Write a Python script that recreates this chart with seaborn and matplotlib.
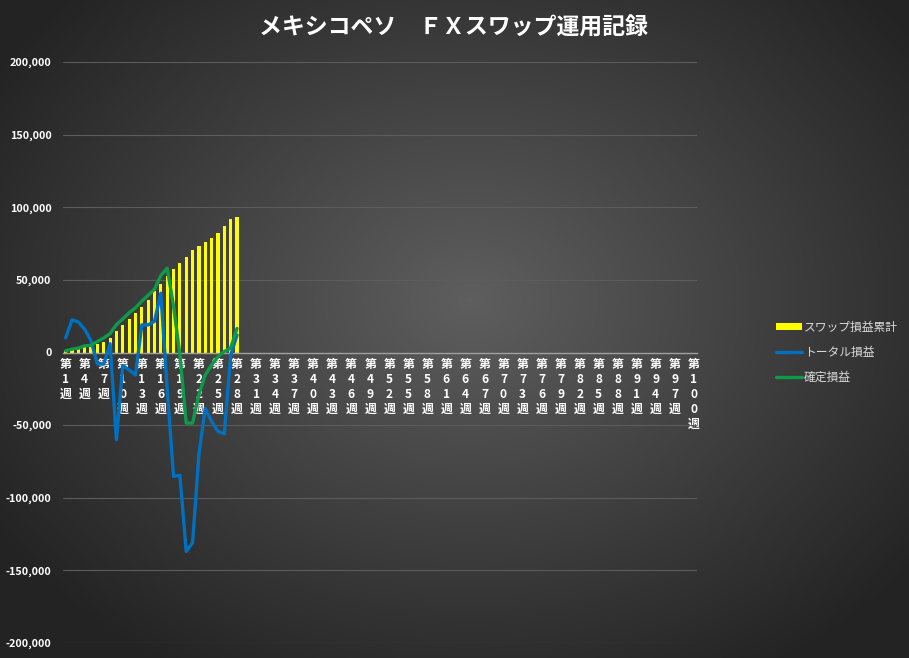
import numpy as np
import pandas as pd
import seaborn as sns
import matplotlib.pyplot as plt
from matplotlib.patches import Patch
from matplotlib.lines import Line2D
from matplotlib.ticker import FuncFormatter

# ==========================================
# データ (第1週〜第28週まで記録済み)
# ==========================================
weeks = [f"第{i}週" for i in range(1, 101)]

swap_cum = [1000, 1800, 2600, 3500, 4500, 5700, 7000, 10000, 14500, 19000,
            23000, 27300, 31000, 36000, 42000, 47500, 52800, 57400, 61600, 65500,
            70600, 73200, 75900, 78700, 82400, 87000, 91700, 93000]
total_pl = [10000, 22500, 21000, 16000, 8000, -8000, -8000, 6000, -60000, -9000,
            -12000, -15500, 19000, 19000, 21500, 40800, -25000, -85300, -84500, -137000,
            -131000, -70000, -38500, -47500, -54300, -56000, -2000, 12000]
fixed_pl = [1200, 2300, 3000, 4600, 4900, 7600, 10000, 13000, 19200, 23100,
            27300, 30800, 35400, 39400, 43500, 53000, 58000, 32000, -1500, -48600,
            -48600, -29000, -15500, -8500, -2800, 700, 3000, 16500]

title = "メキシコペソ　ＦＸスワップ運用記録"
labels = ["スワップ損益累計", "トータル損益", "確定損益"]


def pad(vals):
    return list(vals) + [np.nan] * (len(weeks) - len(vals))


df = pd.DataFrame({
    "週": weeks,
    "pos": np.arange(len(weeks)),
    "swap": pad(swap_cum),
    "total": pad(total_pl),
    "fixed": pad(fixed_pl),
})

# 背景とフォント
sns.set_theme(style="white")
plt.rcParams['font.family'] = ['Noto Sans CJK JP', 'DejaVu Sans']

fig = plt.figure(figsize=(9.09, 6.58), dpi=100)

# 放射状グラデーション背景
bg = fig.add_axes([0, 0, 1, 1], zorder=-10)
yy, xx = np.mgrid[0:658, 0:909]
r = np.sqrt(((xx - 470) / 560.0) ** 2 + ((yy - 300) / 430.0) ** 2)
r = np.clip(r, 0, 1)
inner, outer = 0.37, 0.14
shade = inner + (outer - inner) * r
bg.imshow(np.dstack([shade, shade, shade]), aspect="auto", extent=[0, 1, 0, 1])
bg.axis("off")

ax = fig.add_axes([62.5 / 909, 15 / 658, (697 - 62.5) / 909, (643 - 62) / 658])
ax.set_facecolor("none")

sns.barplot(data=df, x="週", y="swap", order=weeks, color="#FFFF00",
            saturation=1, width=0.5, edgecolor="none", linewidth=0,
            ax=ax, zorder=2)
sns.lineplot(data=df, x="pos", y="total", color="#0070C0", linewidth=2.4,
             ax=ax, zorder=3, solid_joinstyle="round")
sns.lineplot(data=df, x="pos", y="fixed", color="#0E9A48", linewidth=2.4,
             ax=ax, zorder=4, solid_joinstyle="round")

ax.set_ylim(-200000, 200000)
ax.set_xlim(-0.5, len(weeks) - 0.5)
ax.set_yticks(np.arange(-200000, 200001, 50000))
ax.yaxis.set_major_formatter(FuncFormatter(lambda v, p: f"{v:,.0f}"))
ax.yaxis.grid(True, color="#5c5c5c", linewidth=0.8, zorder=0)
ax.xaxis.grid(False)
ax.set_axisbelow(True)

tick_idx = list(range(0, len(weeks), 3))
ax.set_xticks(tick_idx)
ax.set_xticklabels(["\n".join(weeks[i]) for i in tick_idx], linespacing=1.0)

for s in ["top", "right", "left"]:
    ax.spines[s].set_visible(False)
ax.spines["bottom"].set_position(("data", 0))
ax.spines["bottom"].set_color("#a0a0a0")
ax.spines["bottom"].set_linewidth(1.0)

ax.tick_params(axis="y", length=0, colors="white", labelsize=7.8, pad=8)
ax.tick_params(axis="x", length=0, colors="white", labelsize=8.6, pad=4)
for t in ax.get_xticklabels() + ax.get_yticklabels():
    t.set_fontweight("bold")
ax.set_xlabel("")
ax.set_ylabel("")

fig.text(0.499, 1 - 28 / 658, title, ha="center", va="center",
         fontsize=16.5, fontweight="bold", color="white")

handles = [
    Patch(facecolor="#FFFF00", edgecolor="none"),
    Line2D([0], [0], color="#0070C0", linewidth=2.4),
    Line2D([0], [0], color="#0E9A48", linewidth=2.4),
]
leg = fig.legend(handles, labels, loc="center left",
                 bbox_to_anchor=(765 / 909, 1 - 352 / 658), frameon=False,
                 fontsize=8.5, labelcolor="#d9d9d9", handlelength=2.2,
                 handleheight=0.5, handletextpad=0.2, labelspacing=1.0)

fig.savefig("out.png", dpi=100)
